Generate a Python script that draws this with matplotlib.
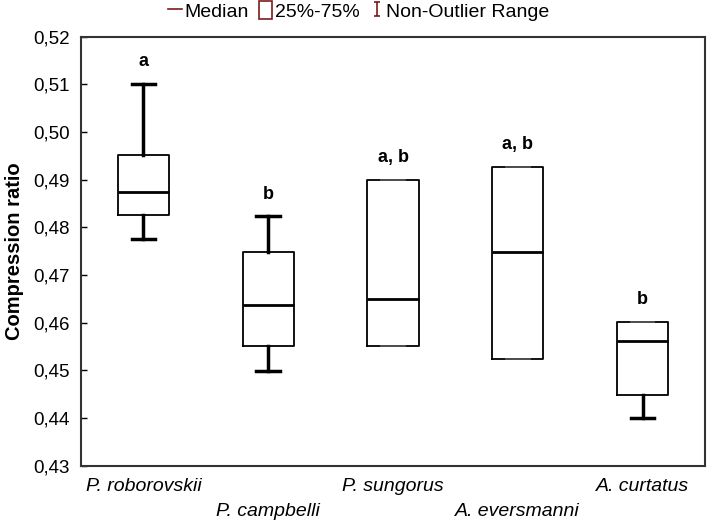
import matplotlib
matplotlib.use("Agg")
import matplotlib.pyplot as plt
import numpy as np
from matplotlib.ticker import MultipleLocator, FuncFormatter
from matplotlib.lines import Line2D
from matplotlib.patches import Rectangle
from matplotlib.path import Path

plt.rcParams['font.family'] = ['Liberation Sans', 'DejaVu Sans']

species = ['P. roborovskii', 'P. campbelli', 'P. sungorus', 'A. eversmanni', 'A. curtatus']
letters = ['a', 'b', 'a, b', 'a, b', 'b']
# values
medians = [0.4875, 0.4637, 0.4649, 0.4748, 0.4562]
q1 = [0.4825, 0.4550, 0.4550, 0.4524, 0.4449]
q3 = [0.4951, 0.4748, 0.4900, 0.4927, 0.4601]
whis_lo = [0.4776, 0.4498, 0.4550, 0.4524, 0.4399]
whis_hi = [0.5101, 0.4823, 0.4900, 0.4927, 0.4601]

maroon = '#7a1c1c'

fig = plt.figure(figsize=(7.08, 5.24), dpi=100)
ax = fig.add_axes([0.1144, 0.1116, 0.8814, 0.8183])

stats = []
for i in range(len(species)):
    stats.append({'med': medians[i], 'q1': q1[i], 'q3': q3[i],
                  'whislo': whis_lo[i], 'whishi': whis_hi[i], 'label': species[i]})

pos = np.arange(1, len(species) + 1)
bp = ax.bxp(stats, positions=pos, widths=0.41, showfliers=False, capwidths=0.19,
            boxprops=dict(color='black', linewidth=1.3),
            medianprops=dict(color='black', linewidth=2.0),
            whiskerprops=dict(color='black', linewidth=2.5),
            capprops=dict(color='black', linewidth=2.5))

# caps sitting on the box edge are drawn thin
for i in range(len(species)):
    if whis_lo[i] == q1[i]:
        bp['caps'][2 * i].set_linewidth(1.3)
        bp['caps'][2 * i].set_color('#555555')
    if whis_hi[i] == q3[i]:
        bp['caps'][2 * i + 1].set_linewidth(1.3)
        bp['caps'][2 * i + 1].set_color('#555555')

for i in range(len(species)):
    ax.annotate(letters[i], (pos[i], whis_hi[i]), xytext=(0, 16), textcoords='offset points',
                ha='center', va='center', fontsize=13, fontweight='bold')

ax.set_xlim(0.5, 5.5)
ax.set_ylim(0.43, 0.52)
ax.yaxis.set_major_locator(MultipleLocator(0.01))
ax.yaxis.set_major_formatter(FuncFormatter(lambda v, p: ('%.2f' % v).replace('.', ',')))
ax.tick_params(axis='y', direction='in', length=4, width=1, labelsize=13.5, pad=8)
ax.tick_params(axis='x', length=0, labelsize=14)
ax.set_xticks(pos)
ax.set_xticklabels(species, fontstyle='italic')
for k, t in enumerate(ax.xaxis.get_major_ticks()):
    t.set_pad(9 if k % 2 == 0 else 27)

for s in ax.spines.values():
    s.set_linewidth(1.5)
    s.set_color('#333333')

ax.set_ylabel('Compression ratio', fontsize=14.5, fontweight='bold', labelpad=7)

# legend on top
ibeam = Path([(-0.5, -1), (0.5, -1), (0, -1), (0, 1), (-0.5, 1), (0.5, 1)],
             [Path.MOVETO, Path.LINETO, Path.MOVETO, Path.LINETO, Path.MOVETO, Path.LINETO])
h_med = Line2D([], [], color=maroon, linewidth=1.2)
h_box = Rectangle((0, 0), 1, 1, facecolor='none', edgecolor=maroon, linewidth=1.2)
h_rng = Line2D([], [], linestyle='none', marker=ibeam, markersize=10,
               markeredgecolor=maroon, markerfacecolor='none', markeredgewidth=1.2)
fig.legend([h_med, h_box, h_rng], ['Median', '25%-75%', 'Non-Outlier Range'],
           loc='center', bbox_to_anchor=(0.507, 0.979), ncol=3, frameon=False,
           fontsize=14, handlelength=0.7, handleheight=1.0, handletextpad=0.15,
           columnspacing=0.5, borderpad=0)

fig.savefig('out.png', dpi=100)
